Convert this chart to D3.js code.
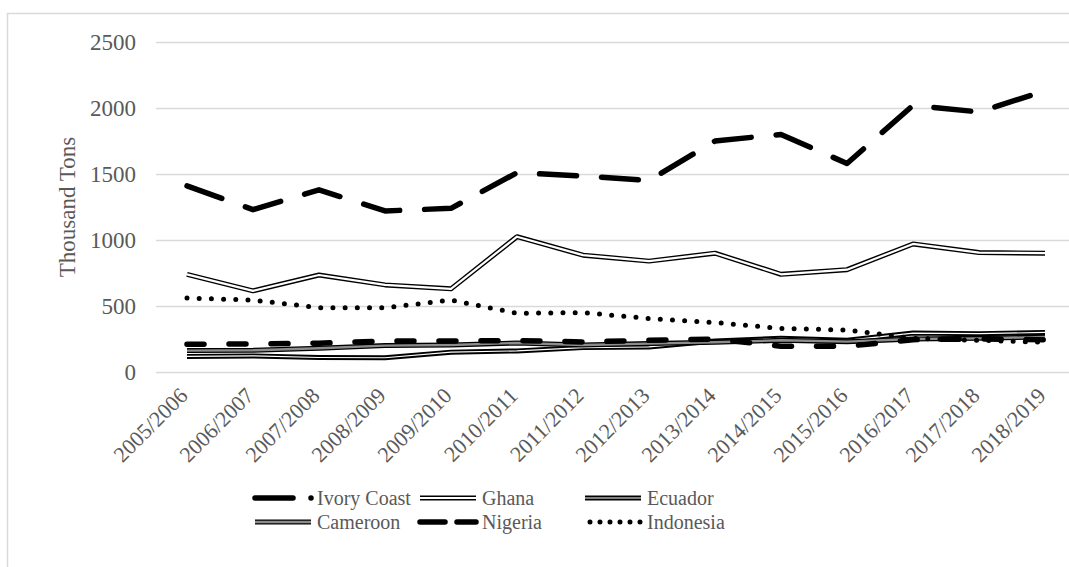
<!DOCTYPE html>
<head>
    <meta charset="utf-8">
    <script src="https://d3js.org/d3.v7.min.js"></script>
    <style>
        body {
            margin: 0;
            background: #fff;
        }
        #chart text {
            font-family: "Liberation Serif", "Times New Roman", serif;
            fill: #595959;
        }
    </style>
</head>

<body>
    <svg id="chart" width="1069" height="567"></svg>
    <script>
        var categories = ["2005/2006", "2006/2007", "2007/2008", "2008/2009", "2009/2010", "2010/2011", "2011/2012",
            "2012/2013", "2013/2014", "2014/2015", "2015/2016", "2016/2017", "2017/2018", "2018/2019"];
        var yTicks = [0, 500, 1000, 1500, 2000, 2500];

        var ivoryCoast = [1410, 1230, 1380, 1220, 1240, 1510, 1485, 1450, 1750, 1800, 1580, 2020, 1970, 2130];
        var ghana = [740, 615, 735, 660, 630, 1025, 885, 840, 900, 740, 775, 970, 905, 900];
        var ecuador = [118, 122, 110, 108, 150, 160, 185, 190, 235, 255, 240, 295, 290, 300];
        var cameroon = [162, 165, 180, 200, 205, 220, 205, 215, 225, 240, 230, 250, 255, 265];
        var nigeria = [210, 212, 218, 235, 235, 238, 228, 240, 250, 195, 195, 245, 250, 245];
        var indonesia = [560, 545, 487, 487, 545, 445, 450, 405, 375, 330, 318, 255, 240, 225];

        // each layer is a stroke drawn on top of the previous one
        var series = [
            { name: "Ivory Coast", values: ivoryCoast, layers: [{ c: "#000", w: 5.5, dash: "37,25" }] },
            { name: "Ghana", values: ghana, layers: [{ c: "#000", w: 5 }, { c: "#fff", w: 2.2 }] },
            { name: "Ecuador", values: ecuador, layers: [{ c: "#000", w: 5 }, { c: "#fff", w: 1.2 }] },
            { name: "Cameroon", values: cameroon, layers: [{ c: "#000", w: 5 }, { c: "#8c8c8c", w: 2.4 }] },
            { name: "Nigeria", values: nigeria, layers: [{ c: "#000", w: 5.5, dash: "17,25" }] },
            { name: "Indonesia", values: indonesia, layers: [{ c: "#000", w: 5, dash: "0,12.2" }] }
        ];

        var svg = d3.select("#chart");

        var x = d3.scalePoint().domain(categories).range([154, 1078]).padding(0.5);
        var y = d3.scaleLinear().domain([0, 2500]).range([372, 42]);

        // outer chart border, right and bottom edges fall outside the picture
        svg.append("rect")
            .attr("x", 7.5).attr("y", 13.5)
            .attr("width", 1200).attr("height", 700)
            .attr("fill", "none")
            .attr("stroke", "#d9d9d9")
            .attr("stroke-width", 1.5);

        var yAxis = svg.append("g")
            .attr("transform", "translate(156,0)")
            .call(d3.axisLeft(y).tickValues(yTicks).tickFormat(d3.format("d"))
                .tickSize(-(1078 - 156)).tickPadding(20));
        yAxis.attr("font-family", null).attr("font-size", null);
        yAxis.select(".domain").remove();
        yAxis.selectAll("line").attr("stroke", "#d9d9d9").attr("stroke-width", 1.5);
        yAxis.selectAll("text").style("font-size", "23px");

        svg.append("text")
            .attr("transform", "translate(75,207) rotate(-90)")
            .attr("text-anchor", "middle")
            .style("font-size", "23px")
            .text("Thousand Tons");

        // x labels, rotated
        svg.append("g").selectAll("text")
            .data(categories)
            .join("text")
            .attr("transform", function (d) { return "translate(" + (x(d) + 2) + ",397) rotate(-45)"; })
            .attr("text-anchor", "end")
            .style("font-size", "22px")
            .text(function (d) { return d; });

        var line = d3.line()
            .x(function (d, i) { return x(categories[i]); })
            .y(function (d) { return y(d); });

        series.forEach(function (s) {
            s.layers.forEach(function (l) {
                svg.append("path")
                    .attr("d", line(s.values))
                    .attr("fill", "none")
                    .attr("stroke", l.c)
                    .attr("stroke-width", l.w)
                    .attr("stroke-linejoin", "round")
                    .attr("stroke-linecap", l.dash ? "round" : "butt")
                    .attr("stroke-dasharray", l.dash || null);
            });
        });

        // legend: 3 columns, 2 rows
        var legendDash = {
            "Ivory Coast": "38,18,0,40",
            "Nigeria": "25,12",
            "Indonesia": "0,10"
        };
        var legend = svg.append("g");
        series.forEach(function (s, i) {
            var lx = 253 + (i % 3) * 165;
            var ly = 498 + Math.floor(i / 3) * 24;
            var g = legend.append("g").attr("transform", "translate(" + lx + "," + ly + ")");
            s.layers.forEach(function (l) {
                g.append("line")
                    .attr("x1", s.name == "Indonesia" ? 7 : 2)
                    .attr("x2", s.name == "Ivory Coast" ? 60 : 58)
                    .attr("y1", 0).attr("y2", 0)
                    .attr("stroke", l.c)
                    .attr("stroke-width", l.w)
                    .attr("stroke-linecap", legendDash[s.name] ? "round" : "butt")
                    .attr("stroke-dasharray", legendDash[s.name] || null);
            });
            g.append("text")
                .attr("x", 64)
                .attr("y", 7)
                .style("font-size", "20px")
                .text(s.name);
        });
    </script>
</body>
